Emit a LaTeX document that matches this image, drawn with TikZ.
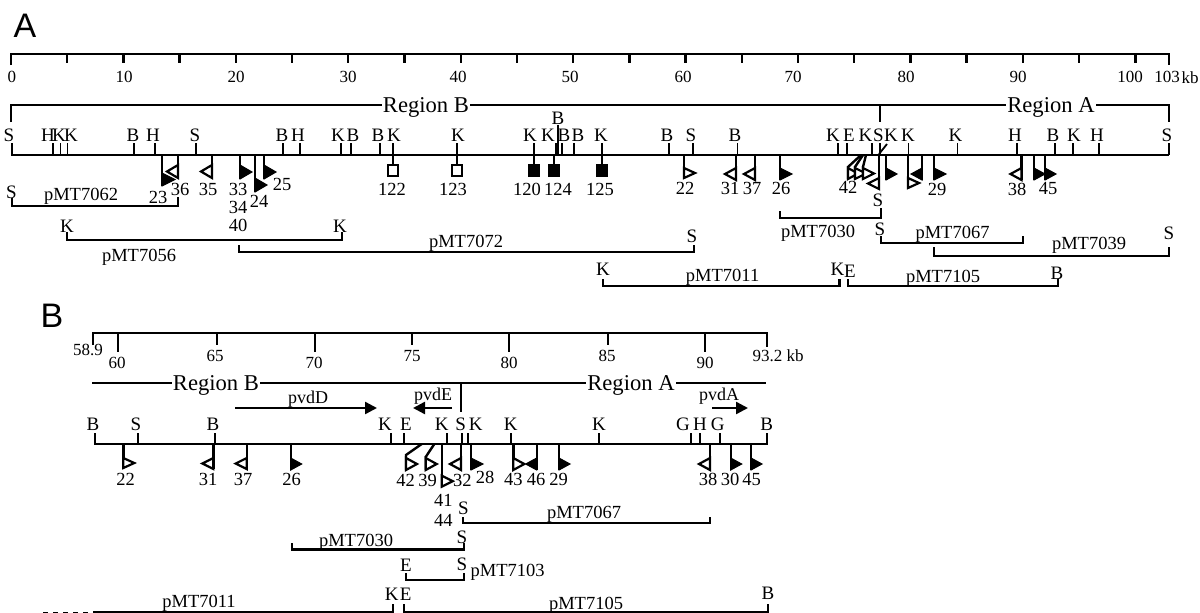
\documentclass[tikz,border=0pt]{standalone}
\usepackage{fontspec}
\setmainfont{Liberation Serif}
\newfontfamily\panelfont{Liberation Sans}
\usetikzlibrary{arrows.meta}
\newcounter{nn}
\tikzset{
  every node/.style={inner sep=0pt,text depth=0pt},
  mapline/.style={line width=2.4pt,line cap=butt,line join=miter},
  thinline/.style={line width=1.8pt},
  panel/.style={font=\panelfont\fontsize{34}{34}\selectfont,text height=24.5pt},
  rulernum/.style={font=\fontsize{17}{17}\selectfont,text height=11.3pt},
  sitelab/.style={font=\fontsize{19}{19}\selectfont,text height=12.6pt},
  numlab/.style={font=\fontsize{18.5}{18.5}\selectfont,text height=12.4pt},
  clonelab/.style={font=\fontsize{18.5}{18.5}\selectfont,text height=12.4pt},
  genelab/.style={font=\fontsize{18}{18}\selectfont,text height=12pt},
  regionlab/.style={font=\fontsize{22.6}{22.6}\selectfont,fill=white,inner xsep=1pt,text height=15pt},
  triopen/.style={draw=black,line width=2.2pt,fill=white,line join=miter},
  trifill/.style={draw=black,line width=1pt,fill=black},
  boxopen/.style={draw=black,line width=2.4pt,fill=white},
  boxfill/.style={draw=black,line width=2.4pt,fill=black},
  genearrow/.style={line width=2.4pt,-{Triangle[length=12pt,width=12pt]}},
}
% text node with automatic name
\newcommand\lab[4]{\stepcounter{nn}\node[#1] (n\arabic{nn}) at (#2,#3) {#4};}
% restriction site: tick x, label x, letter
\newcommand\site[3]{\draw[thinline] (#1,\bby) -- (#1,\topy); \lab{sitelab}{#2}{\laby}{#3}}
% flag: x, y1, y2, signed width, style
\newcommand\flag[5]{\draw[mapline] (#1,\bby) -- (#1,#3);
  \draw[#5] (#1,#2) -- (#1,#3) -- ({#1+#4},{(#2+#3)/2}) -- cycle;}
% slanted flag: x0, x, knee y, y1, y2, width, style
\newcommand\sflag[7]{\draw[mapline] (#1,\bby) -- (#2,#3) -- (#2,#5);
  \draw[#7] (#2,#4) -- (#2,#5) -- ({#2+#6},{(#4+#5)/2}) -- cycle;}
% square probe: x, style
\newcommand\probe[2]{\draw[mapline] (#1,\bby) -- (#1,165);
  \draw[#2] ({#1-5},165) rectangle ({#1+5},176);}
% bracket: x1, x2, y, left top, right top
\newcommand\bracket[5]{\draw[mapline] (#1,#4) -- (#1,#3) -- (#2,#3) -- (#2,#5);}
\begin{document}
\begin{tikzpicture}[x=1pt,y=-1pt]
\useasboundingbox (0,0) rectangle (1200,613);
\fill[white] (0,0) rectangle (1200,613);
%%%%%% PANEL A
\lab{panel}{25}{25}{A}
\draw[mapline] (11,65) -- (11,54) -- (1169,54) -- (1169,65);
\foreach \k in {5,10,...,100}{\draw[mapline] ({11+\k*11.243},54) -- ({11+\k*11.243},63);}
\foreach \x/\t in {12/0,124/10,236/20,348/30,458/40,570/50,683/60,793/70,906/80,1018/90,1130/100,1167/{103}}{
  \lab{rulernum}{\x}{77}{\t}}
\lab{rulernum}{1190}{78}{kb}
% region line
\draw[thinline] (11,122) -- (11,105) -- (1169,105) -- (1169,122);
\draw[thinline] (880,105) -- (880,122);
\lab{regionlab}{426}{105}{Region B}
\lab{regionlab}{1051}{105}{Region A}
% backbone
\def\bby{155}\def\topy{143}\def\laby{135}
\draw[mapline] (11,155) -- (1169,155);
\site{12}{9}{S}\site{53}{48}{H}\site{60.5}{59}{K}\site{67.5}{71}{K}
\site{134}{133}{B}\site{155}{153}{H}\site{196}{195}{S}\site{283}{282}{B}
\site{300}{298}{H}\site{341}{338}{K}\site{351}{353}{B}\site{380}{378}{B}
\site{393}{394}{K}\site{457}{458}{K}\site{534}{530}{K}\site{556}{548}{K}
\site{562}{564}{B}\site{574}{578}{B}\site{602}{601}{K}\site{669}{667}{B}
\site{693}{691}{S}\site{737.5}{735}{B}\site{838}{833}{K}\site{847}{849}{E}
\site{872}{865.5}{K}\site{908.4}{908}{K}\site{957.5}{955.5}{K}
\site{1017}{1015}{H}\site{1055}{1053}{B}\site{1073}{1074}{K}\site{1099}{1097}{H}
\site{1169}{1167}{S}
\draw[thinline] (558,155) -- (558,125);
\lab{sitelab}{558}{118}{B}
\draw[thinline] (880,155) -- (880,143);
\lab{sitelab}{878.5}{135}{S}
\draw[thinline] (879,154) -- (887,144);
\lab{sitelab}{891}{135}{K}
% flags
\flag{162}{173}{186}{13}{trifill}
\flag{178}{165}{178}{-11}{triopen}
\flag{212}{165}{178}{-11}{triopen}
\flag{240}{165}{179}{12}{trifill}
\flag{255}{178}{192}{12}{trifill}
\flag{264}{165}{179}{12}{trifill}
\lab{numlab}{158}{197}{23}\lab{numlab}{180}{189}{36}\lab{numlab}{208}{189}{35}
\lab{numlab}{238}{189}{33}\lab{numlab}{238}{207}{34}\lab{numlab}{238}{225}{40}
\lab{numlab}{259}{201}{24}\lab{numlab}{282}{184}{25}
% square probes
\probe{393}{boxopen}\probe{457}{boxopen}\probe{534}{boxfill}\probe{554}{boxfill}\probe{602}{boxfill}
\lab{numlab}{392}{189}{122}\lab{numlab}{453}{189}{123}\lab{numlab}{527}{189}{120}
\lab{numlab}{558}{189}{124}\lab{numlab}{600}{189}{125}
% right-hand flags
\flag{684}{168}{178}{11}{triopen}
\flag{736}{168}{180}{-11}{triopen}
\flag{755}{168}{180}{-11}{triopen}
\flag{780}{168}{180}{12}{trifill}
\sflag{861}{848}{167}{168}{179}{10}{triopen}
\sflag{863}{855}{167}{168}{179}{11}{triopen}
\sflag{866}{863}{167}{168}{179}{11}{triopen}
\flag{879}{178}{189}{-11}{triopen}
\flag{886}{168}{180}{11}{trifill}
\flag{908}{178}{188}{11}{triopen}
\flag{922}{168}{180}{-11}{trifill}
\flag{934}{168}{180}{12}{trifill}
\flag{1021.5}{168}{180}{-11}{triopen}
\flag{1034}{168}{180}{11}{trifill}
\flag{1045}{168}{180}{11}{trifill}
\lab{numlab}{685}{188}{22}\lab{numlab}{730}{188}{31}\lab{numlab}{752}{188}{37}
\lab{numlab}{781}{188}{26}\lab{numlab}{848}{187}{42}\lab{numlab}{937}{189}{29}
\lab{numlab}{1017}{189}{38}\lab{numlab}{1048}{188}{45}
% clones
\bracket{12}{178}{206}{198}{197}
\lab{sitelab}{11.5}{192}{S}\lab{clonelab}{81}{194}{pMT7062}
\bracket{67}{342}{240}{232}{232}
\lab{sitelab}{67}{226}{K}\lab{sitelab}{340}{226}{K}\lab{clonelab}{139}{255}{pMT7056}
\bracket{239}{694}{252}{245}{245}
\lab{clonelab}{466}{241}{pMT7072}\lab{sitelab}{692}{236}{S}
\bracket{780}{881}{218}{211}{208}
\lab{clonelab}{818}{231}{pMT7030}\lab{sitelab}{878}{200}{S}
\bracket{881}{1023}{243}{236}{236}
\lab{sitelab}{880}{229}{S}\lab{clonelab}{952.5}{232}{pMT7067}
\bracket{934}{1169}{256}{247}{247}
\lab{clonelab}{1089}{243}{pMT7039}\lab{sitelab}{1169}{233}{S}
\bracket{603}{839.5}{286}{279}{279}
\lab{sitelab}{603}{269}{K}\lab{sitelab}{837.5}{269}{K}\lab{clonelab}{722.6}{275}{pMT7011}
\draw[thinline] (848,279) -- (848,286) -- (1058,286) -- (1058,279);
\lab{sitelab}{850}{271}{E}\lab{sitelab}{1057}{273}{B}\lab{clonelab}{943}{276}{pMT7105}
%%%%%% PANEL B
\lab{panel}{52}{315}{B}
\draw[mapline] (93,345) -- (93,333) -- (766.7,333) -- (766.7,347);
\foreach \x/\b in {118/352,216.7/345,315/352,411.7/345,509/352,607.7/345,705/352}{
  \draw[mapline] (\x,333) -- (\x,\b);}
\foreach \x/\y/\t in {88/350/58.9,117/363/60,215/356/65,314/363/70,412/356/75,509/363/80,607/356/85,705/363/90}{
  \lab{rulernum}{\x}{\y}{\t}}
\lab{rulernum}{778}{356}{93.2 kb}
% region line
\draw[thinline] (92,383) -- (766,383);
\draw[thinline] (461,383) -- (461,412);
\lab{regionlab}{216}{383}{Region B}
\lab{regionlab}{631}{383}{Region A}
% genes
\coordinate (dS) at (235,408);\coordinate (dE) at (377,408);
\draw[genearrow] (dS) -- (dE);\lab{genelab}{308}{397}{pvdD}
\coordinate (eS) at (452,408);\coordinate (eE) at (413,408);
\draw[genearrow] (eS) -- (eE);\lab{genelab}{433}{394}{pvdE}
\coordinate (aS) at (712,408);\coordinate (aE) at (748,408);
\draw[genearrow] (aS) -- (aE);\lab{genelab}{719}{394}{pvdA}
% backbone
\def\bby{444}\def\topy{433}\def\laby{424}
\draw[mapline] (94,444) -- (768,444);
\site{95}{93}{B}\site{138}{136}{S}\site{215}{213}{B}\site{391}{385}{K}\site{404}{406}{E}
\site{447.3}{441.7}{K}\site{462}{460.7}{S}\site{468}{475.7}{K}\site{510.7}{510.7}{K}
\site{599}{599}{K}\site{690.7}{683}{G}\site{700}{700}{H}\site{720}{717.7}{G}\site{767}{766.7}{B}
% flags
\flag{123.3}{458}{468}{11}{triopen}
\flag{213.3}{458}{469}{-11}{triopen}
\flag{246.7}{458}{469}{-11}{triopen}
\flag{290.7}{458}{470}{11}{trifill}
\sflag{421.7}{406}{455}{458}{470}{11}{triopen}
\sflag{434.3}{425.7}{457}{458}{470}{11}{triopen}
\flag{441.7}{475.7}{486.7}{11}{triopen}
\flag{461}{458}{470}{-11}{triopen}
\flag{471}{458}{470}{12}{trifill}
\flag{513.3}{458}{470}{11}{triopen}
\flag{536.7}{458}{470}{-11}{trifill}
\flag{559}{458}{470}{11}{trifill}
\flag{710}{458}{470}{-11}{triopen}
\flag{730.7}{458}{470}{11}{trifill}
\flag{751}{458}{470}{11}{trifill}
\foreach \x/\y/\t in {125.7/479/22,208/479/31,243/479/37,291.7/479/26,405.7/480/42,427.7/480/39,462.3/480/32,485/477/28,513.3/479/43,536/479/46,558.7/479/29,708/479/38,730/479/30,751.7/479/45,443.3/500/41,443.3/520.7/44}{
  \lab{numlab}{\x}{\y}{\t}}
% clones
\bracket{463}{710}{523}{517}{517}
\lab{sitelab}{463.3}{508}{S}\lab{clonelab}{584}{512}{pMT7067}
\bracket{291.7}{464}{549.5}{543}{543}
\lab{clonelab}{356}{540}{pMT7030}\lab{sitelab}{462}{537}{S}
\bracket{406}{464}{580}{573}{573}
\lab{sitelab}{406}{565}{E}\lab{sitelab}{462}{564}{S}\lab{clonelab}{507.7}{570.7}{pMT7103}
\draw[line width=1pt,dash pattern=on 5pt off 5pt] (43,612) -- (90,612);
\draw[thinline] (93,612) -- (393.3,612) -- (393.3,604);
\lab{sitelab}{391.7}{594}{K}\lab{sitelab}{405.7}{594}{E}\lab{clonelab}{199}{601.7}{pMT7011}
\draw[thinline] (404,604) -- (404,612) -- (767.7,612) -- (767.7,604);
\lab{clonelab}{586}{603}{pMT7105}\lab{sitelab}{768}{592.7}{B}
\end{tikzpicture}
\end{document}
